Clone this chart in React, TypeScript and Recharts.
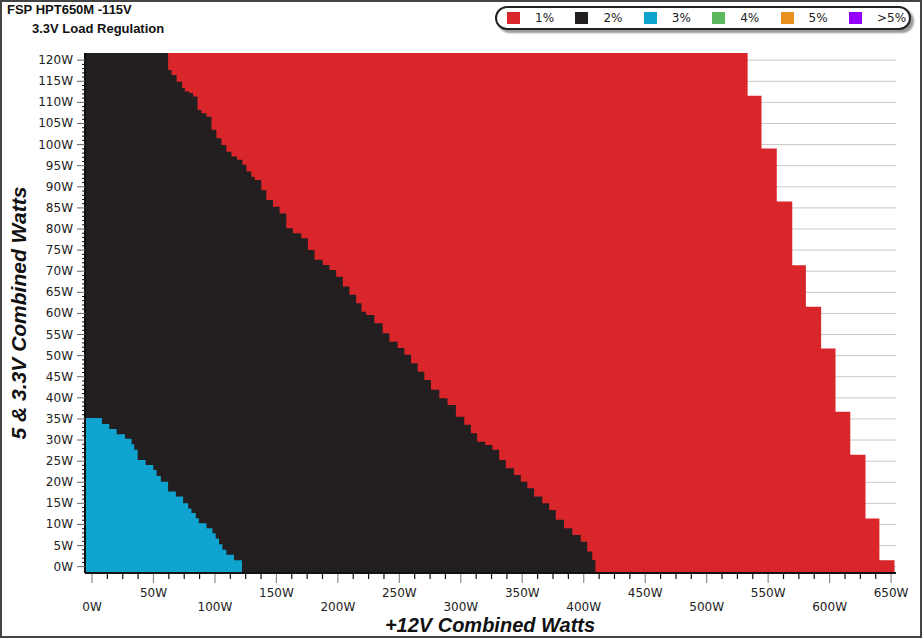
import React from 'react';
import { ComposedChart, Area, XAxis, YAxis, CartesianGrid } from 'recharts';

// step points (x = +12V watts, y = 5V & 3.3V watts), stepAfter convention
const redX = [-5.7, 533.3, 544.6, 557.0, 569.6, 580.7, 593.1, 604.8, 616.8, 629.2, 640.5, 652.8];
const redY = [121.7, 111.6, 99.1, 86.5, 71.4, 61.6, 51.7, 36.7, 26.5, 11.4, 1.5, -1.5];

const blackX = [
  -5.7, 61.9, 64.7, 68.8, 73.3, 75.5, 79.0, 82.2, 85.8, 89.0, 93.1, 97.2, 101.2, 105.3, 109.3, 113.4,
  117.9, 122.3, 125.6, 129.6, 132.3, 137.7, 141.8, 147.2, 152.6, 158.0, 163.4, 170.2, 175.6, 181.0,
  187.7, 193.2, 198.6, 204.0, 209.4, 214.9, 219.2, 223.0, 229.7, 236.4, 241.9, 248.6, 254.1, 259.5,
  264.9, 270.3, 275.7, 282.5, 289.2, 296.0, 302.8, 308.2, 313.3, 319.8, 325.7, 331.2, 336.6, 343.3,
  348.8, 354.1, 359.6, 366.3, 371.8, 377.2, 383.9, 390.7, 397.5, 402.8, 406.9, 409.5,
];
const blackY = [
  121.7, 117.7, 116.5, 114.9, 113.4, 112.6, 112.2, 111.4, 108.2, 107.4, 106.6, 103.5, 101.5, 99.9, 98.3,
  97.2, 96.4, 95.2, 93.6, 92.4, 91.6, 89.2, 86.9, 85.3, 83.7, 80.2, 79.0, 77.8, 75.0, 72.7, 71.5, 70.3,
  68.7, 66.4, 64.4, 62.4, 60.4, 59.6, 57.7, 55.3, 53.3, 51.8, 50.2, 48.2, 46.2, 44.2, 41.9, 39.9, 38.3,
  35.5, 33.6, 31.6, 29.6, 28.8, 27.7, 25.3, 23.3, 21.7, 20.1, 18.6, 16.6, 15.0, 13.4, 11.1, 9.1, 7.5,
  5.9, 3.6, 1.6, -1.5,
];

const blueX = [-5.7, 8.1, 14.0, 20.0, 26.8, 32.2, 34.3, 37.1, 43.6, 49.8, 52.5, 56.0, 61.9, 68.2, 74.1, 78.2, 80.9, 84.4, 86.9, 93.1, 98.0, 100.6, 103.3, 106.1, 109.3, 115.5, 122.0];
const blueY = [35.2, 33.8, 32.6, 31.4, 30.3, 29.0, 27.7, 25.3, 24.1, 22.9, 21.5, 20.1, 17.8, 16.6, 15.0, 13.8, 12.7, 11.5, 10.3, 9.1, 7.9, 6.7, 5.3, 4.0, 2.8, 1.5, -1.5];

const legendLabels = ['1%', '2%', '3%', '4%', '5%', '>5%'];
const legendColors = ['#d8262a', '#231f20', '#0fa3d0', '#5cb85c', '#e8901e', '#9400ff'];

const yGridValues = [0, 5, 10, 15, 20, 25, 30, 35, 40, 45, 50, 55, 60, 65, 70, 75, 80, 85, 90, 95, 100, 105, 110, 115, 120];
const xTicks = Array.from({ length: 53 }, (_, i) => i * 12.5);
const yTicks = Array.from({ length: 121 }, (_, i) => i);

const X_DOMAIN: [number, number] = [-5.7, 654];
const Y_DOMAIN: [number, number] = [-1.5, 121.7];

type Row = { x: number; red?: number; black?: number; blue?: number };

const buildRows = (): Row[] => {
  const map = new Map<number, Row>();
  const add = (xs: number[], ys: number[], key: 'red' | 'black' | 'blue') => {
    const n = Math.min(xs.length, ys.length);
    for (let i = 0; i < n; i++) {
      const r = map.get(xs[i]) ?? { x: xs[i] };
      r[key] = ys[i];
      map.set(xs[i], r);
    }
  };
  add(redX, redY, 'red');
  add(blackX, blackY, 'black');
  add(blueX, blueY, 'blue');
  return [...map.values()].sort((a, b) => a.x - b.x);
};

const rows = buildRows();

const tickFont = { fontFamily: '"DejaVu Sans", sans-serif', fontSize: 12, fill: '#222' };

const XTick = (props: any) => {
  const { x, y, payload } = props;
  const v = payload.value as number;
  const major = v % 50 === 0;
  const lowRow = major && (v / 50) % 2 === 0;
  return (
    <g>
      <line x1={x} x2={x} y1={y + 1} y2={y + (major ? 10 : 6)} stroke={major ? '#8a8a8a' : '#111'} strokeWidth={1.2} />
      {major && (
        <text x={x} y={y + (lowRow ? 34 : 20)} textAnchor="middle" dominantBaseline="central" {...tickFont}>
          {v}W
        </text>
      )}
    </g>
  );
};

const YTick = (props: any) => {
  const { x, y, payload } = props;
  const v = payload.value as number;
  const major = v % 5 === 0;
  return (
    <g>
      <line x1={x - (major ? 8 : 3)} x2={x} y1={y} y2={y} stroke={major ? '#666' : '#111'} strokeWidth={1} />
      {major && (
        <text x={x - 12} y={y} textAnchor="end" dominantBaseline="central" {...tickFont}>
          {v}W
        </text>
      )}
    </g>
  );
};

const LegendBox = () => (
  <div
    style={{
      position: 'absolute',
      left: 495,
      top: 6,
      width: 416,
      height: 24,
      boxSizing: 'border-box',
      border: '2px solid #222',
      borderRadius: 12,
      background: '#fff',
      boxShadow: '3px 3px 2px #9a9a9a',
    }}
  >
    {legendLabels.map((label, i) => (
      <React.Fragment key={label}>
        <span
          style={{
            position: 'absolute',
            left: 10 + i * 68.4,
            top: 4,
            width: 13,
            height: 12,
            background: legendColors[i],
          }}
        />
        <span
          style={{
            position: 'absolute',
            left: 38 + i * 68.4,
            top: 2,
            fontFamily: '"DejaVu Sans", sans-serif',
            fontSize: 12,
            lineHeight: '16px',
            color: '#222',
          }}
        >
          {label}
        </span>
      </React.Fragment>
    ))}
  </div>
);

const App = () => {
  return (
    <div style={{ position: 'absolute', left: 0, top: 0, width: 924, height: 639, background: '#fff', overflow: 'hidden' }}>
      <div
        style={{
          position: 'absolute',
          left: 0,
          top: 0,
          width: 922,
          height: 638,
          boxSizing: 'border-box',
          border: '2px solid #444',
        }}
      />
      <div style={{ position: 'absolute', left: 7, top: 2, fontFamily: '"Liberation Sans", Arial, sans-serif', fontWeight: 700, fontSize: 13, color: '#111' }}>
        FSP HPT650M -115V
      </div>
      <div style={{ position: 'absolute', left: 32, top: 21, fontFamily: '"Liberation Sans", Arial, sans-serif', fontWeight: 700, fontSize: 13, color: '#111' }}>
        3.3V Load Regulation
      </div>
      <div style={{ position: 'absolute', left: 0, top: 0 }}>
        <ComposedChart width={924} height={639} data={rows} margin={{ top: 53, right: 28, bottom: 26, left: 25 }}>
          <CartesianGrid horizontal vertical={false} horizontalValues={yGridValues} stroke="#c8c8c8" strokeWidth={1} />
          <XAxis
            type="number"
            dataKey="x"
            domain={X_DOMAIN}
            allowDataOverflow
            ticks={xTicks}
            interval={0}
            tickSize={0}
            tickMargin={0}
            tickLine={false}
            tick={<XTick />}
            height={40}
            axisLine={{ stroke: '#111', strokeWidth: 2 }}
          />
          <YAxis
            type="number"
            domain={Y_DOMAIN}
            allowDataOverflow
            ticks={yTicks}
            interval={0}
            tickSize={0}
            tickMargin={0}
            tickLine={false}
            tick={<YTick />}
            width={60}
            axisLine={{ stroke: '#111', strokeWidth: 2 }}
          />
          <Area type="stepAfter" dataKey="red" baseValue={-1.5} fill="#d8262a" fillOpacity={1} stroke="none" connectNulls dot={false} activeDot={false} isAnimationActive={false} />
          <Area type="stepAfter" dataKey="black" baseValue={-1.5} fill="#231f20" fillOpacity={1} stroke="none" connectNulls dot={false} activeDot={false} isAnimationActive={false} />
          <Area type="stepAfter" dataKey="blue" baseValue={-1.5} fill="#0fa3d0" fillOpacity={1} stroke="none" connectNulls dot={false} activeDot={false} isAnimationActive={false} />
          <text
            x={18}
            y={313}
            transform="rotate(-90 18 313)"
            textAnchor="middle"
            dominantBaseline="central"
            style={{ fontFamily: '"Liberation Sans", Arial, sans-serif', fontWeight: 700, fontStyle: 'italic', fontSize: 21, fill: '#111' }}
          >
            5 &amp; 3.3V Combined Watts
          </text>
          <text
            x={490}
            y={625}
            textAnchor="middle"
            dominantBaseline="central"
            style={{ fontFamily: '"Liberation Sans", Arial, sans-serif', fontWeight: 700, fontStyle: 'italic', fontSize: 20, fill: '#111' }}
          >
            +12V Combined Watts
          </text>
        </ComposedChart>
      </div>
      <LegendBox />
    </div>
  );
};

export default App;
